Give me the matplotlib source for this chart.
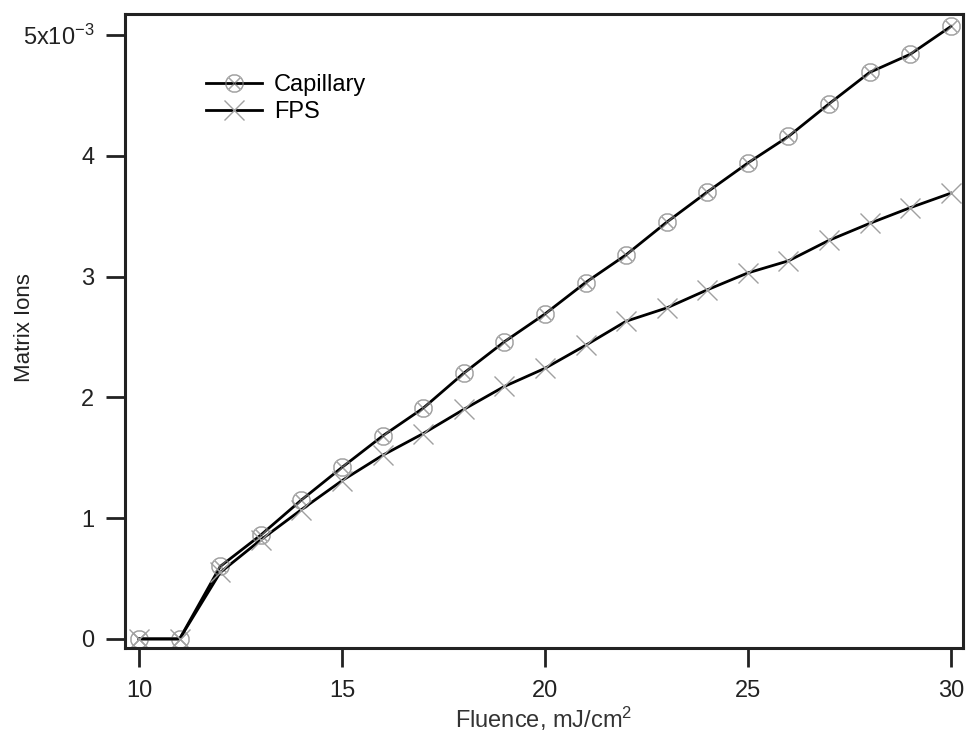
import matplotlib
matplotlib.use("Agg")
import matplotlib.pyplot as plt
from matplotlib.ticker import FixedLocator, FixedFormatter

plt.rcParams['font.family'] = ['Liberation Sans', 'DejaVu Sans']
plt.rcParams['mathtext.fontset'] = 'custom'
plt.rcParams['mathtext.rm'] = 'Liberation Sans'
plt.rcParams['mathtext.it'] = 'Liberation Sans:italic'

fluence = [10, 11, 12, 13, 14, 15, 16, 17, 18, 19, 20, 21, 22, 23, 24, 25, 26, 27, 28, 29, 30]
capillary = [0, 0, 0.60, 0.86, 1.15, 1.42, 1.68, 1.91, 2.20, 2.46, 2.69, 2.95, 3.18, 3.45,
             3.70, 3.94, 4.16, 4.43, 4.69, 4.84, 5.07]
fps = [0, 0, 0.55, 0.82, 1.07, 1.31, 1.52, 1.70, 1.90, 2.09, 2.24, 2.43, 2.63, 2.74,
       2.89, 3.03, 3.13, 3.30, 3.44, 3.57, 3.69]
scale = 1e-3
y_ticks = [0, 1, 2, 3, 4, 5]
y_labels = ['0', '1', '2', '3', '4', '5x10$^{-3}$']
x_ticks = [10, 15, 20, 25, 30]

cap = [v * scale for v in capillary]
fp = [v * scale for v in fps]

fig = plt.figure(figsize=(9.7, 7.33), dpi=100)
ax = fig.add_axes([0.1289, 0.116, 0.8639, 0.865])

ax.plot(fluence, cap, color='black', lw=2.0, marker='$\\otimes$', ms=13,
        mfc='none', mec='#808080', mew=0.4, label='Capillary')
ax.plot(fluence, fp, color='black', lw=2.0, marker='x', ms=14,
        mec='#a0a0a0', mew=1.0, label='FPS')

ax.set_xlim(9.655, 30.3)
ax.set_ylim(-0.075e-3, 5.174e-3)
ax.xaxis.set_major_locator(FixedLocator(x_ticks))
ax.yaxis.set_major_locator(FixedLocator([t * scale for t in y_ticks]))
ax.yaxis.set_major_formatter(FixedFormatter(y_labels))
ax.tick_params(direction='out', length=14, width=2.0, labelsize=17, color='#222222',
               labelcolor='#222222')
ax.tick_params(axis='y', pad=8)
ax.tick_params(axis='x', pad=9)
for s in ax.spines.values():
    s.set_linewidth(2.2)
    s.set_color('#222222')

ax.set_xlabel('Fluence, mJ/cm$^2$', fontsize=17, labelpad=2, color='#333333')
ax.set_ylabel('Matrix Ions', fontsize=16, color='#222222')
ax.yaxis.set_label_coords(-0.108, 0.506)

ax.legend(loc='upper left', bbox_to_anchor=(0.085, 0.92), frameon=False, fontsize=17,
          handlelength=2.4, handletextpad=0.5, labelspacing=0.2, borderaxespad=0)

fig.savefig('out.png', dpi=100)
